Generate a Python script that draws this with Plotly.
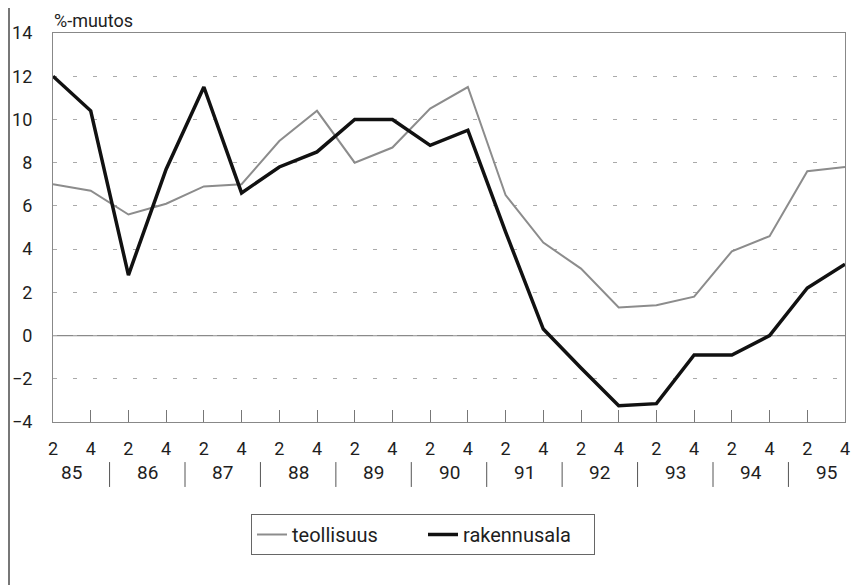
import plotly.graph_objects as go

years = ["85", "86", "87", "88", "89", "90", "91", "92", "93", "94", "95"]
quarters = ["2", "4"]
tick_labels = [q for y in years for q in quarters]

teollisuus = [7.0, 6.7, 5.6, 6.1, 6.9, 7.0, 9.0, 10.4, 8.0, 8.7, 10.5, 11.5,
              6.5, 4.3, 3.1, 1.3, 1.4, 1.8, 3.9, 4.6, 7.6, 7.8]
rakennusala = [12.0, 10.4, 2.8, 7.7, 11.5, 6.6, 7.8, 8.5, 10.0, 10.0, 8.8, 9.5,
               4.8, 0.3, -1.5, -3.25, -3.15, -0.9, -0.9, 0.0, 2.2, 3.3]

xs = list(range(len(tick_labels)))
FONT = "Roboto, Liberation Sans, sans-serif"
TXT = "#1e1e1e"

# page body has an 8px margin; figure sized to fit the window
OFF = 8
W, H = 865 - OFF, 585 - OFF
L, T, PW, PH = 53 - OFF, 33 - OFF, 792, 389
R, B = W - L - PW, H - T - PH

fig = go.Figure()
fig.add_trace(go.Scatter(x=xs, y=teollisuus, mode="lines", name="teollisuus",
                         line=dict(color="#8c8c8c", width=2)))
fig.add_trace(go.Scatter(x=xs, y=rakennusala, mode="lines", name="rakennusala",
                         line=dict(color="#111111", width=3.5)))

# zero line
fig.add_shape(type="line", xref="paper", yref="y", x0=0, x1=1, y0=0, y1=0,
              line=dict(color="#8a8a8a", width=1.2), layer="below")

# year labels and separators
for i, yr in enumerate(years):
    fig.add_annotation(x=2 * i + 0.5, y=-0.131, xref="x", yref="paper", text=yr,
                       showarrow=False, font=dict(size=19, color=TXT, family=FONT),
                       yanchor="middle")
    if i > 0:
        fig.add_shape(type="line", xref="x", yref="paper", x0=2 * i - 0.5, x1=2 * i - 0.5,
                      y0=-0.103, y1=-0.167, line=dict(color="#555", width=1))

# outer frame (vertical lines)
for xp in [(1 - L) / PW, (863 - OFF - L) / PW]:
    fig.add_shape(type="line", xref="paper", yref="paper", x0=xp, x1=xp,
                  y0=-B / PH, y1=(PH + T) / PH,
                  line=dict(color="#777", width=2))

fig.update_layout(
    width=W, height=H,
    margin=dict(l=L, r=R, t=T, b=B, autoexpand=False),
    paper_bgcolor="white", plot_bgcolor="white",
    font=dict(family=FONT, size=18, color=TXT),
    showlegend=True,
    legend=dict(orientation="h", x=(251 - 53) / PW, y=(422 - 514) / PH,
                xanchor="left", yanchor="top",
                bordercolor="#666", borderwidth=1,
                font=dict(size=20, family=FONT, color=TXT),
                itemwidth=30, tracegroupgap=0, entrywidth=126),
    annotations=list(fig.layout.annotations) + [
        dict(text="%-muutos", x=0.0, y=1.0, xref="paper", yref="paper",
             xanchor="left", yanchor="middle", yshift=13, showarrow=False,
             borderpad=0, font=dict(size=18, family=FONT, color=TXT))
    ],
)

fig.update_xaxes(
    range=[0, len(xs) - 1], automargin=False,
    tickmode="array", tickvals=xs, ticktext=tick_labels,
    ticks="inside", ticklen=12, tickcolor="#777", tickwidth=1,
    showline=True, linecolor="#888", linewidth=1.2, mirror=True,
    showgrid=False, zeroline=False,
    tickfont=dict(size=18, family=FONT, color=TXT),
    ticklabelstandoff=10,
)
fig.update_yaxes(
    range=[-4, 14], dtick=2, tick0=-4, automargin=False,
    showline=True, linecolor="#888", linewidth=1.2, mirror=True,
    showgrid=True, gridcolor="#aaaaaa", griddash="4px,16px", gridwidth=1,
    zeroline=False, ticks="",
    tickfont=dict(size=18, family=FONT, color=TXT),
    ticklabelstandoff=16,
)

fig.write_html("out.html")
